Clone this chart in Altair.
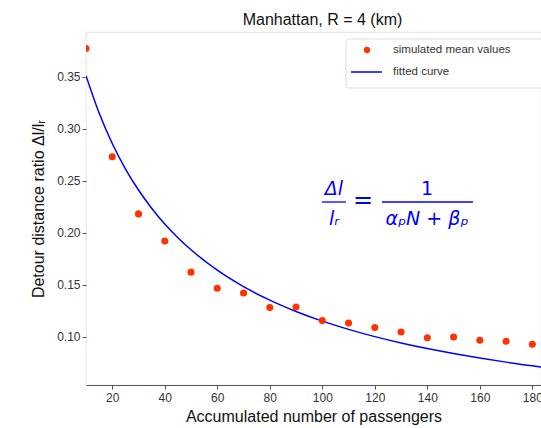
import altair as alt
import pandas as pd

# ---- data ----
N_SIM = [10, 20, 30, 40, 50, 60, 70, 80, 90, 100, 110, 120, 130, 140, 150, 160, 170, 180]
MEAN_SIM = [0.377, 0.273, 0.218, 0.192, 0.162, 0.1465, 0.142, 0.128, 0.1285, 0.1154,
            0.113, 0.1087, 0.1045, 0.099, 0.0997, 0.0965, 0.0956, 0.0927]
N_FIT = [10, 15, 20, 25, 30, 35, 40, 45, 50, 60, 70, 80, 90, 100, 110, 120, 130,
         140, 150, 160, 170, 180, 184]
CURVE_FIT = [0.3509, 0.3150, 0.2857, 0.2614, 0.2410, 0.2235, 0.2083, 0.1951, 0.1835,
             0.1639, 0.1481, 0.1351, 0.1242, 0.1149, 0.1070, 0.1000, 0.0939, 0.0885,
             0.0837, 0.0794, 0.0755, 0.0719, 0.0706]
X_TICKS = [20, 40, 60, 80, 100, 120, 140, 160, 180]
Y_TICKS = [0.10, 0.15, 0.20, 0.25, 0.30, 0.35]
LEGEND_LABELS = ["simulated mean values", "fitted curve"]

sim_df = pd.DataFrame({"N": N_SIM, "ratio": MEAN_SIM})
fit_df = pd.DataFrame({"N": N_FIT, "ratio": CURVE_FIT})
one = pd.DataFrame({"k": [0]})

FONT = "Liberation Sans"
RED = "#ff3300"
BLUE = "#0000ff"

x_scale = alt.Scale(domain=[10, 183.3], nice=False, zero=False)
y_scale = alt.Scale(domain=[0.0535, 0.3929], nice=False, zero=False)

x_enc = alt.X("N:Q", scale=x_scale,
              axis=alt.Axis(values=X_TICKS, title="Accumulated number of passengers",
                            grid=False, domainColor="#555555", domainWidth=1.2,
                            tickColor="#555555", tickSize=4, labelPadding=3,
                            titlePadding=5))
y_enc = alt.Y("ratio:Q", scale=y_scale,
              axis=alt.Axis(values=Y_TICKS, format=".2f",
                            title="Detour distance ratio Δl/lᵣ",
                            grid=False, domain=False, tickColor="#555555",
                            tickSize=4, labelPadding=2, titlePadding=10))

line = alt.Chart(fit_df).mark_line(color=BLUE, strokeWidth=1.5,
                                   interpolate="monotone", clip=True).encode(x=x_enc, y=y_enc)
points = alt.Chart(sim_df).mark_circle(color=RED, size=50, opacity=1,
                                       clip=True).encode(x="N:Q", y="ratio:Q")

# ---- legend box ----
leg_box = alt.Chart(one).mark_rect(fill="white", stroke="#dddddd", strokeWidth=1,
                                   cornerRadius=3).encode(
    x=alt.value(260), x2=alt.value(470), y=alt.value(7), y2=alt.value(56))
leg_pt = alt.Chart(one).mark_circle(color=RED, size=40, opacity=1).encode(
    x=alt.value(281), y=alt.value(18))
leg_line = alt.Chart(one).mark_rule(color=BLUE, strokeWidth=1.5).encode(
    x=alt.value(265), x2=alt.value(296), y=alt.value(40))
leg_t1 = alt.Chart(one).mark_text(text=LEGEND_LABELS[0], align="left", baseline="middle",
                                  font=FONT, fontSize=11.5, color="#333333").encode(
    x=alt.value(307), y=alt.value(18))
leg_t2 = alt.Chart(one).mark_text(text=LEGEND_LABELS[1], align="left", baseline="middle",
                                  font=FONT, fontSize=11.5, color="#333333").encode(
    x=alt.value(307), y=alt.value(40))

# ---- equation annotation ----
EQF = "DejaVu Sans"
def eq_text(txt, x, y, size=19):
    return alt.Chart(one).mark_text(text=txt, align="center", baseline="middle",
                                    font=EQF, fontSize=size, fontStyle="italic",
                                    color=BLUE).encode(x=alt.value(x), y=alt.value(y))

eq_num_l = eq_text("Δl", 248, 157)
eq_den_l = eq_text("lᵣ", 248, 187)
eq_eq = alt.Chart(one).mark_text(text="=", align="center", baseline="middle", font=EQF,
                                 fontSize=24, color=BLUE).encode(x=alt.value(277), y=alt.value(169))
eq_num_r = alt.Chart(one).mark_text(text="1", align="center", baseline="middle", font=EQF,
                                    fontSize=19, color=BLUE).encode(x=alt.value(341), y=alt.value(157))
eq_den_r = eq_text("αₚN + βₚ", 341, 187)
bar_l = alt.Chart(one).mark_rule(color=BLUE, strokeWidth=1.3).encode(
    x=alt.value(236), x2=alt.value(260), y=alt.value(170))
bar_r = alt.Chart(one).mark_rule(color=BLUE, strokeWidth=1.3).encode(
    x=alt.value(296), x2=alt.value(387), y=alt.value(170))

chart = alt.layer(
    line, points, leg_box, leg_pt, leg_line, leg_t1, leg_t2,
    eq_num_l, eq_den_l, eq_eq, eq_num_r, eq_den_r, bar_l, bar_r
).properties(
    width=455, height=353,
    title=alt.TitleParams("Manhattan, R = 4 (km)", font=FONT, fontSize=16,
                          fontWeight="normal", color="#111111", anchor="middle",
                          dx=9, offset=4),
    padding={"left": 86, "top": 32, "right": 0, "bottom": 43},
    autosize=alt.AutoSizeParams(type="none"),
).configure_view(
    stroke="#e8e8e8", strokeWidth=1.2
).configure_axis(
    labelFont=FONT, labelFontSize=12, labelColor="#333333",
    titleFont=FONT, titleFontSize=16, titleFontWeight="normal", titleColor="#111111"
)

chart.save("out.html", embed_options={"renderer": "svg", "actions": False})
